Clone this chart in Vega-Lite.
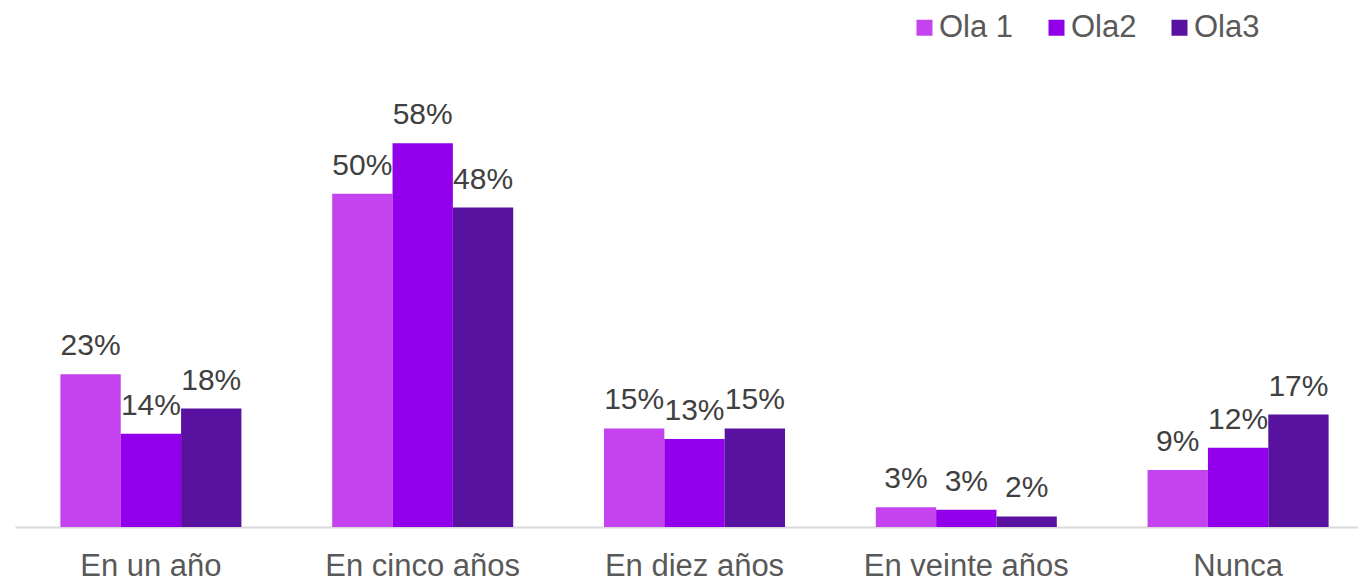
{
  "$schema": "https://vega.github.io/schema/vega-lite/v6.json",
  "width": 1343,
  "height": 463,
  "autosize": {"type": "none"},
  "padding": {"left": 15, "top": 64, "right": 0, "bottom": 54},
  "config": {"view": {"stroke": null}, "font": "Liberation Sans"},
  "data": {
    "values": [
      {"categoria": "En un año", "ola": "Ola 1", "valor": 0.231},
      {"categoria": "En un año", "ola": "Ola2", "valor": 0.141},
      {"categoria": "En un año", "ola": "Ola3", "valor": 0.179},
      {"categoria": "En cinco años", "ola": "Ola 1", "valor": 0.504},
      {"categoria": "En cinco años", "ola": "Ola2", "valor": 0.58},
      {"categoria": "En cinco años", "ola": "Ola3", "valor": 0.483},
      {"categoria": "En diez años", "ola": "Ola 1", "valor": 0.149},
      {"categoria": "En diez años", "ola": "Ola2", "valor": 0.133},
      {"categoria": "En diez años", "ola": "Ola3", "valor": 0.149},
      {"categoria": "En veinte años", "ola": "Ola 1", "valor": 0.03},
      {"categoria": "En veinte años", "ola": "Ola2", "valor": 0.026},
      {"categoria": "En veinte años", "ola": "Ola3", "valor": 0.016},
      {"categoria": "Nunca", "ola": "Ola 1", "valor": 0.086},
      {"categoria": "Nunca", "ola": "Ola2", "valor": 0.12},
      {"categoria": "Nunca", "ola": "Ola3", "valor": 0.17}
    ]
  },
  "encoding": {
    "x": {
      "field": "categoria",
      "type": "nominal",
      "sort": ["En un año", "En cinco años", "En diez años", "En veinte años", "Nunca"],
      "scale": {"range": [0, 1359], "paddingInner": 0.334, "paddingOuter": 0.167},
      "axis": {
        "title": null,
        "labelAngle": 0,
        "labelFontSize": 31,
        "labelColor": "#595959",
        "labelPadding": 24,
        "ticks": false,
        "domainColor": "#D9D9D9",
        "domainWidth": 2,
        "labelLimit": 400
      }
    },
    "xOffset": {
      "field": "ola",
      "type": "nominal",
      "sort": ["Ola 1", "Ola2", "Ola3"],
      "scale": {"paddingInner": 0, "paddingOuter": 0}
    },
    "y": {
      "field": "valor",
      "type": "quantitative",
      "scale": {"domain": [0, 0.7]},
      "axis": null
    }
  },
  "layer": [
    {
      "mark": {"type": "bar"},
      "encoding": {
        "color": {
          "field": "ola",
          "type": "nominal",
          "scale": {"domain": ["Ola 1", "Ola2", "Ola3"], "range": ["#C443EF", "#9200EB", "#5911A0"]},
          "legend": {
            "orient": "none",
            "legendX": 894,
            "legendY": -52,
            "direction": "horizontal",
            "title": null,
            "labelFontSize": 31,
            "labelColor": "#595959",
            "symbolType": "square",
            "symbolSize": 256,
            "symbolStrokeWidth": 0,
            "labelOffset": -1,
            "columnPadding": 27,
            "padding": 0
          }
        }
      }
    },
    {
      "mark": {"type": "text", "dy": -19, "baseline": "alphabetic", "fontSize": 30, "color": "#404040"},
      "encoding": {
        "text": {"field": "valor", "type": "quantitative", "format": ".0%"}
      }
    }
  ]
}
